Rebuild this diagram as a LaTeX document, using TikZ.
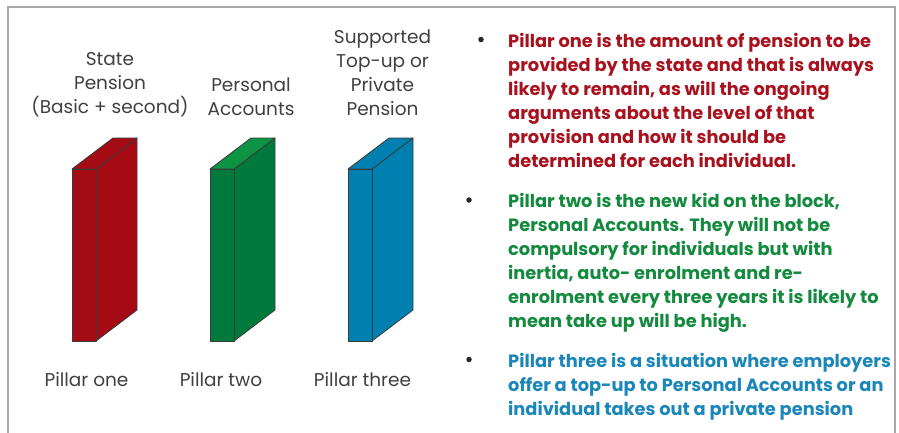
\documentclass[tikz,border=0pt]{standalone}
\usepackage{fontspec}
\setmainfont{Poppins}
\definecolor{framegray}{HTML}{A8A8A8}
\definecolor{labelgray}{HTML}{404040}
\definecolor{edgegray}{HTML}{3A3A3A}
\definecolor{redfront}{HTML}{A50B14}
\definecolor{redtop}{HTML}{A50B14}
\definecolor{greenfront}{HTML}{007A3C}
\definecolor{greentop}{HTML}{0C9444}
\definecolor{bluefront}{HTML}{0080B0}
\definecolor{bluetop}{HTML}{0080B0}
\definecolor{redtext}{HTML}{A8121E}
\definecolor{greentext}{HTML}{138A3E}
\definecolor{bluetext}{HTML}{1B86B8}
\tikzset{
  label text/.style={text=labelgray, align=center, inner sep=0pt,
    font=\fontsize{18.5}{24}\selectfont},
  para text/.style={anchor=north west, align=left, inner sep=0pt,
    font=\bfseries\fontsize{17.8}{24}\selectfont},
  bulletdot/.style={circle, fill=black!85, inner sep=0pt, minimum size=5.5pt},
  faceedge/.style={draw=edgegray, line width=0.8pt, line join=round},
}
% one pillar: front face left x, fill colours for front, side and top
\newcommand{\pillarbox}[4]{%
  \def\px{#1}%
  \filldraw[faceedge, fill=#3] (\px+24,169) -- (\px+65,138) -- (\px+65,310) -- (\px+24,341) -- cycle;
  \filldraw[faceedge, fill=#4] (\px,169) -- (\px+41,138) -- (\px+65,138) -- (\px+24,169) -- cycle;
  \filldraw[faceedge, fill=#2] (\px,169) rectangle (\px+24,341);
}
\begin{document}
\begin{tikzpicture}[x=1pt,y=-1pt]
\useasboundingbox (0,0) rectangle (899,432);
\fill[white] (0,0) rectangle (899,432);
\draw[framegray, line width=2pt] (8,440) -- (8,7) -- (895,7) -- (895,440);

% the three pillars
\pillarbox{72}{redfront}{redfront}{redtop}
\pillarbox{210}{greenfront}{greenfront}{greentop}
\pillarbox{348}{bluefront}{bluefront}{bluetop}

% captions above the pillars
\node[label text] (capone) at (110,85) {State\\Pension\\(Basic + second)};
\node[label text] (captwo) at (251,96.5) {Personal\\Accounts};
\node[label text] (capthree) at (382.5,72.5) {Supported\\Top-up or\\Private\\Pension};

% names under the pillars
\node[label text] (nameone) at (86.5,380) {Pillar one};
\node[label text] (nametwo) at (221,380) {Pillar two};
\node[label text] (namethree) at (362.5,380) {Pillar three};

% bullet points
\node[bulletdot] (b1) at (481,39.5) {};
\node[bulletdot] (b2) at (469,200) {};
\node[bulletdot] (b3) at (469,359.5) {};

\node[para text, text=redtext] (p1) at (508,33.5) {%
Pillar one is the amount of pension to be\\
provided by the state and that is always\\
likely to remain, as will the ongoing\\
arguments about the level of that\\
provision and how it should be\\
determined for each individual.};

\node[para text, text=greentext] (p2) at (508,193.5) {%
Pillar two is the new kid on the block,\\
Personal Accounts. They will not be\\
compulsory for individuals but with\\
inertia, auto- enrolment and re-\\
enrolment every three years it is likely to\\
mean take up will be high.};

\node[para text, text=bluetext] (p3) at (508,353.5) {%
Pillar three is a situation where employers\\
offer a top-up to Personal Accounts or an\\
individual takes out a private pension};
\end{tikzpicture}
\end{document}
